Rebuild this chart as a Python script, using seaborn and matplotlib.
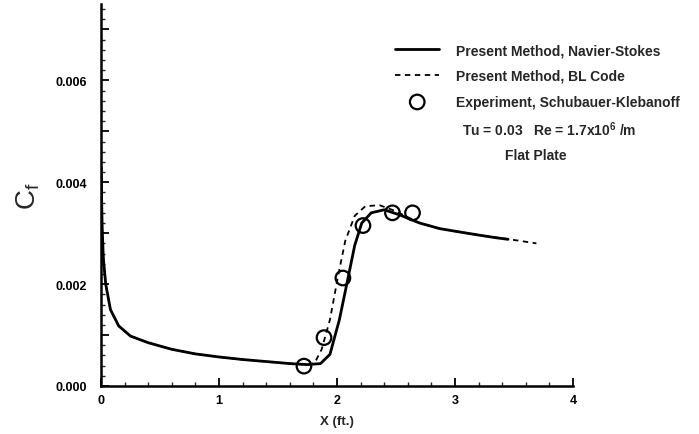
import numpy as np
import pandas as pd
import matplotlib
matplotlib.use("Agg")
import matplotlib.pyplot as plt
import seaborn as sns
from matplotlib.ticker import MultipleLocator, FuncFormatter

# Navier-Stokes solution
ns_x = [0.002, 0.005, 0.01, 0.02, 0.04, 0.08, 0.15, 0.25, 0.4, 0.6, 0.8, 1.0, 1.2, 1.4, 1.6,
        1.75, 1.86, 1.94, 2.02, 2.09, 2.15, 2.21, 2.29, 2.40, 2.53, 2.70, 2.87, 3.05, 3.21, 3.35, 3.45]
ns_y = [0.0043, 0.0037, 0.0031, 0.0025, 0.0020, 0.0015, 0.00118, 0.00098, 0.00085, 0.00072, 0.00063,
        0.00057, 0.00052, 0.00048, 0.00044, 0.00042, 0.00044, 0.00062, 0.0013, 0.00208, 0.00276,
        0.0032, 0.0034, 0.00346, 0.00336, 0.0032, 0.00309, 0.00302, 0.00296, 0.00291, 0.00288]

# Boundary-layer code
bl_x = [0.002, 0.005, 0.01, 0.02, 0.04, 0.08, 0.15, 0.25, 0.4, 0.6, 0.8, 1.0, 1.2, 1.4, 1.6,
        1.75, 1.81, 1.87, 1.94, 2.01, 2.07, 2.15, 2.24, 2.36, 2.49, 2.70, 2.87, 3.05, 3.21, 3.40, 3.55, 3.69]
bl_y = [0.0043, 0.0037, 0.0031, 0.0025, 0.0020, 0.0015, 0.00118, 0.00098, 0.00085, 0.00072, 0.00063,
        0.00057, 0.00052, 0.00048, 0.00044, 0.00042, 0.00045, 0.00072, 0.0013, 0.00217, 0.00285,
        0.00334, 0.00353, 0.00355, 0.00344, 0.0032, 0.00309, 0.00302, 0.00296, 0.0029, 0.00285, 0.0028]

# Experiment, Schubauer-Klebanoff
exp_x = [1.72, 1.89, 2.05, 2.22, 2.47, 2.64]
exp_y = [0.00039, 0.00095, 0.00212, 0.00315, 0.00340, 0.00340]

sns.set_style("white")
plt.rcParams['font.family'] = ['Liberation Sans', 'DejaVu Sans']
plt.rcParams['font.weight'] = 'bold'

W, H = 699, 435
fig = plt.figure(figsize=(W / 100, H / 100), dpi=100)
ax = fig.add_axes([101 / W, 1 - 387 / H, 472 / W, 382 / H])

ns = pd.DataFrame({'x': ns_x, 'y': ns_y})
bl = pd.DataFrame({'x': bl_x, 'y': bl_y})
ex = pd.DataFrame({'x': exp_x, 'y': exp_y})

sns.lineplot(data=ns, x='x', y='y', ax=ax, color='black', lw=2.0, sort=False,
             label='Present Method, Navier-Stokes')
sns.lineplot(data=bl, x='x', y='y', ax=ax, color='black', lw=1.3, sort=False,
             linestyle=(0, (3.0, 2.5)), label='Present Method, BL Code')
sns.scatterplot(data=ex, x='x', y='y', ax=ax, marker='o', s=110, facecolor='none',
                edgecolor='black', linewidth=1.6, label='Experiment, Schubauer-Klebanoff', zorder=5)

ax.set_xlim(0, 4)
ax.set_ylim(0, 0.0075)
for s in ['top', 'right']:
    ax.spines[s].set_visible(False)
for s in ['left', 'bottom']:
    ax.spines[s].set_linewidth(1.8)
    ax.spines[s].set_color('black')

ax.xaxis.set_major_locator(MultipleLocator(1))
ax.xaxis.set_minor_locator(MultipleLocator(0.2))
ax.yaxis.set_major_locator(MultipleLocator(0.001))
ax.yaxis.set_minor_locator(MultipleLocator(0.0002))
ax.yaxis.set_major_formatter(FuncFormatter(lambda v, p: f"{v:.3f}" if round(v * 1000) % 2 == 0 else ""))
ax.xaxis.set_major_formatter(FuncFormatter(lambda v, p: f"{v:.0f}"))
ax.tick_params(axis='both', which='major', direction='in', length=6, width=1.3, labelsize=9, colors='black')
ax.tick_params(axis='both', which='minor', direction='in', length=3, width=1.0)
ax.tick_params(axis='y', which='major', pad=10)
ax.tick_params(axis='x', which='major', pad=6)
ax.tick_params(axis='y', which='both', left=True)
ax.tick_params(axis='x', which='both', bottom=True)
for lab in ax.get_xticklabels() + ax.get_yticklabels():
    lab.set_fontweight('bold')

ax.set_xlabel('X (ft.)', fontsize=9.5, fontweight='bold', labelpad=6)
ax.set_ylabel('C$_\\mathregular{f}$', fontsize=20, fontweight='normal', labelpad=10)

leg = ax.legend(loc='upper left', bbox_to_anchor=(395 / W, 1 - 44 / H), bbox_transform=fig.transFigure,
                frameon=False, fontsize=10, borderpad=0, borderaxespad=0,
                handlelength=3.2, handletextpad=1.2, labelspacing=0.85, markerscale=1.0)
for t in leg.get_texts():
    t.set_fontweight('bold')

fig.text(549 / W, 1 - 130 / H, 'Tu = 0.03   Re = 1.7x10$^\\mathregular{6}$ /m',
         fontsize=10, fontweight='bold', ha='center', va='center')
fig.text(536 / W, 1 - 156 / H, 'Flat Plate',
         fontsize=10, fontweight='bold', ha='center', va='center')

fig.savefig('out.png', dpi=100)
